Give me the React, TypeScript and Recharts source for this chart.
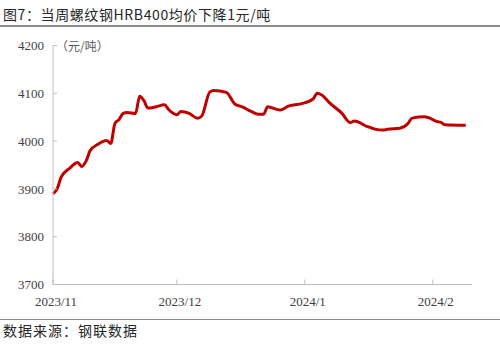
import React from "react";
import { LineChart, Line, XAxis, YAxis } from "recharts";

const dates = [
  "2023-11-01", "2023-11-02", "2023-11-03", "2023-11-05", "2023-11-07", "2023-11-08",
  "2023-11-09", "2023-11-10", "2023-11-12", "2023-11-14", "2023-11-15", "2023-11-16",
  "2023-11-17", "2023-11-18", "2023-11-19", "2023-11-21", "2023-11-22", "2023-11-23",
  "2023-11-24", "2023-11-26", "2023-11-28", "2023-11-29", "2023-12-01", "2023-12-02",
  "2023-12-04", "2023-12-06", "2023-12-07", "2023-12-09", "2023-12-10", "2023-12-13",
  "2023-12-15", "2023-12-17", "2023-12-19", "2023-12-21", "2023-12-22", "2023-12-23",
  "2023-12-26", "2023-12-28", "2023-12-31", "2024-01-03", "2024-01-04", "2024-01-05",
  "2024-01-07", "2024-01-10", "2024-01-12", "2024-01-13", "2024-01-16", "2024-01-18",
  "2024-01-20", "2024-01-21", "2024-01-24", "2024-01-26", "2024-01-27", "2024-01-30",
  "2024-01-31", "2024-02-02", "2024-02-03", "2024-02-04", "2024-02-09",
];

const prices = [
  3890, 3900, 3925, 3943, 3955, 3947,
  3958, 3980, 3994, 4001, 3995, 4037,
  4045, 4058, 4060, 4058, 4094, 4085,
  4069, 4072, 4076, 4066, 4055, 4062,
  4058, 4048, 4052, 4103, 4106, 4102,
  4078, 4071, 4062, 4056, 4056, 4072,
  4065, 4073, 4078, 4088, 4100, 4097,
  4080, 4058, 4039, 4042, 4031, 4025,
  4023, 4025, 4027, 4037, 4048, 4051,
  4049, 4041, 4039, 4034, 4033,
];

const xTickDates = ["2023-11-01", "2023-12-01", "2024-01-01", "2024-02-01"];
const xTickLabels = ["2023/11", "2023/12", "2024/1", "2024/2"];
const yTicks = [3700, 3800, 3900, 4000, 4100, 4200];

const DAY = 86400000;
const ORIGIN = Date.UTC(2023, 10, 1);
const toDay = (s: string) => {
  const [y, m, d] = s.split("-").map(Number);
  return (Date.UTC(y, m - 1, d) - ORIGIN) / DAY;
};

const data = dates.map((d, i) => ({ day: toDay(d), price: prices[i] }));
const xTicks = xTickDates.map(toDay);

const labelFor = (v: number) => {
  const i = xTicks.indexOf(v);
  return i >= 0 ? xTickLabels[i] : "";
};

const tickFont = { fill: "#404040", fontSize: 13, fontFamily: "'Liberation Serif', 'DejaVu Serif', serif" };

export default function App() {
  return (
    <div style={{ position: "absolute", left: 0, top: 0, width: 500, height: 346, background: "#fff", overflow: "hidden" }}>
      <div
        style={{
          position: "absolute",
          left: 3,
          top: 4,
          fontSize: 14,
          lineHeight: "20px",
          letterSpacing: 0.6,
          color: "#262626",
          fontFamily: "'Noto Sans CJK SC', sans-serif",
          whiteSpace: "nowrap",
        }}
      >
        图7：当周螺纹钢HRB400均价下降1元/吨
      </div>
      <div style={{ position: "absolute", left: 0, top: 25, width: 500, height: 1.5, background: "#8c8c8c" }} />
      <div style={{ position: "absolute", left: 0, top: 318.5, width: 500, height: 1.5, background: "#8c8c8c" }} />
      <div
        style={{
          position: "absolute",
          left: 3,
          top: 320,
          fontSize: 14,
          lineHeight: "20px",
          letterSpacing: 1,
          color: "#262626",
          fontFamily: "'Noto Sans CJK SC', sans-serif",
          whiteSpace: "nowrap",
        }}
      >
        数据来源：钢联数据
      </div>
      <div
        style={{
          position: "absolute",
          left: 56,
          top: 38,
          fontSize: 12,
          lineHeight: "16px",
          color: "#595959",
          fontFamily: "'Noto Sans CJK SC', sans-serif",
          whiteSpace: "nowrap",
        }}
      >
        （元/吨）
      </div>
      <div style={{ position: "absolute", left: 0, top: 0 }}>
        <LineChart width={500} height={346} data={data} margin={{ top: 45.5, right: 28, bottom: 31.5, left: 3 }}>
          <XAxis
            type="number"
            dataKey="day"
            domain={[0, 101.5]}
            ticks={xTicks}
            interval={0}
            tickFormatter={labelFor}
            height={30}
            stroke="#BFBFBF"
            tickSize={-5}
            tickMargin={17}
            tick={{ ...tickFont, dx: 3 }}
          />
          <YAxis
            type="number"
            domain={[3700, 4200]}
            ticks={yTicks}
            interval={0}
            width={50}
            stroke="#BFBFBF"
            tickSize={-4}
            tickMargin={13}
            tick={tickFont}
          />
          <Line
            type="monotone"
            dataKey="price"
            stroke="#C00000"
            strokeWidth={3}
            dot={false}
            isAnimationActive={false}
          />
        </LineChart>
      </div>
    </div>
  );
}
